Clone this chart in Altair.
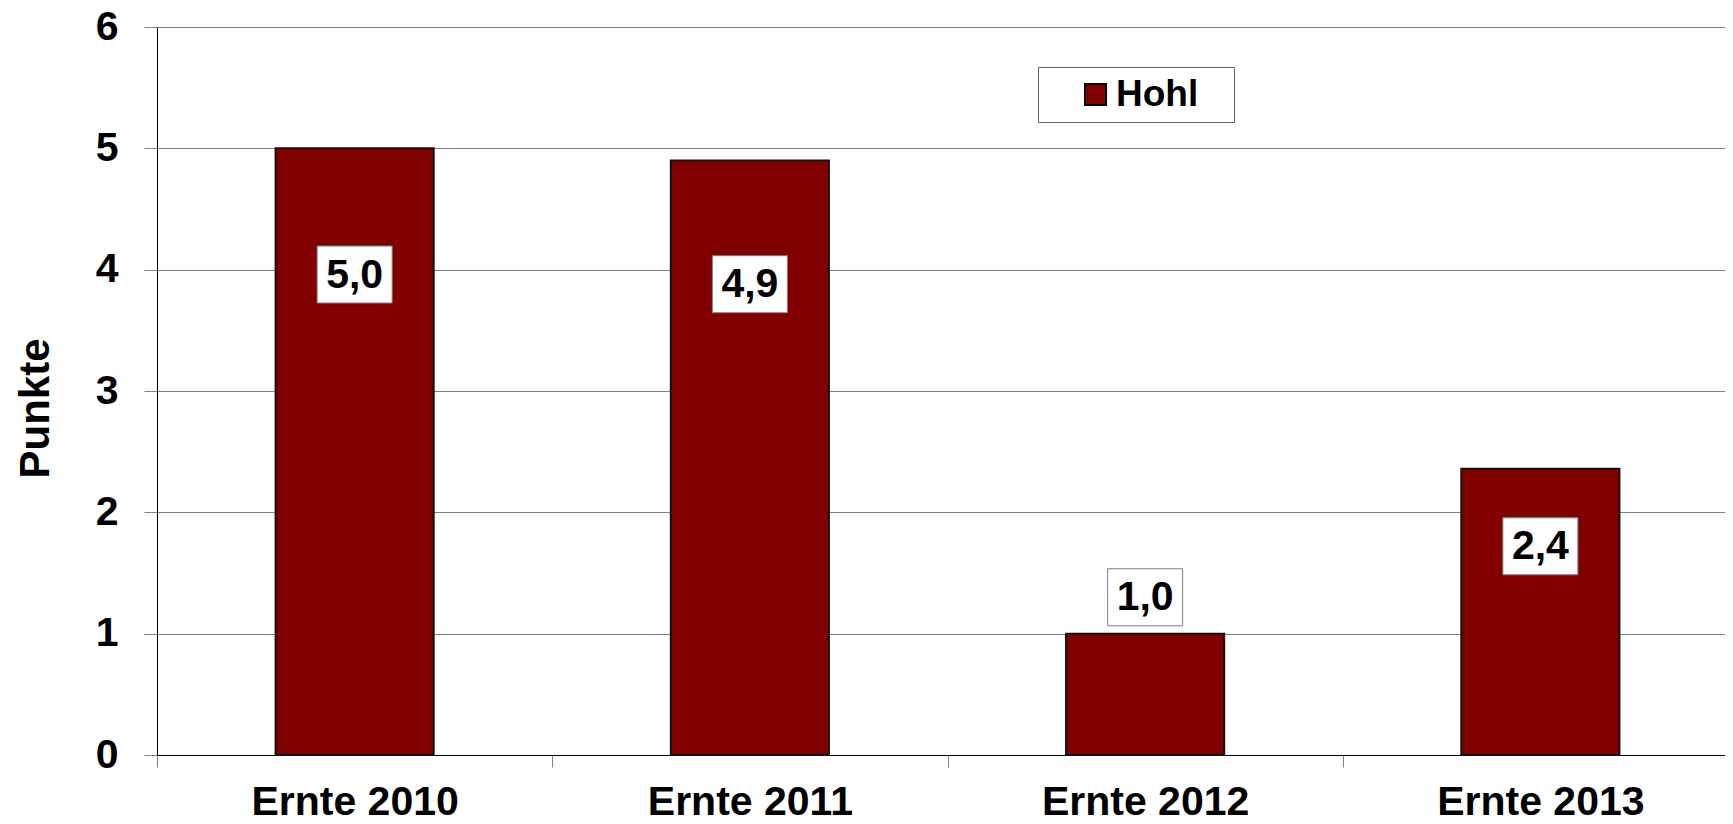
import altair as alt
import pandas as pd

categories = ["Ernte 2010", "Ernte 2011", "Ernte 2012", "Ernte 2013"]
values = [5.0, 4.9, 1.0, 2.36]
label_pos = [3.96, 3.88, 1.30, 1.72]
series = ["Hohl", "Hohl", "Hohl", "Hohl"]
y_ticks = [0, 1, 2, 3, 4, 5, 6]

df = pd.DataFrame({"cat": categories, "value": values, "lpos": label_pos, "series": series})

FONT = "Liberation Sans"

x_scale = alt.Scale(paddingInner=0, paddingOuter=0)

x_enc = alt.X(
    "cat:N",
    sort=categories,
    title=None,
    scale=x_scale,
    axis=alt.Axis(
        tickBand="extent",
        tickSize=12,
        tickColor="#808080",
        tickWidth=1,
        domainColor="#000000",
        domainWidth=1.2,
        labelFont=FONT,
        labelFontSize=41,
        labelFontWeight="bold",
        labelColor="#000000",
        labelPadding=15,
        labelAngle=0,
        labelLimit=0,
        grid=False,
    ),
)

y_scale = alt.Scale(domain=[0, 6], nice=False)

bars = alt.Chart(df).mark_bar(
    stroke="#111111", strokeWidth=2, width=alt.RelativeBandSize(0.4)
).encode(
    x=x_enc,
    y=alt.Y(
        "value:Q",
        scale=y_scale,
        title="Punkte",
        axis=alt.Axis(
            values=y_ticks,
            format="d",
            grid=True,
            gridColor="#808080",
            gridWidth=1,
            tickColor="#808080",
            tickSize=13,
            domainColor="#000000",
            labelFont=FONT,
            labelFontSize=41,
            labelFontWeight="bold",
            labelColor="#000000",
            labelPadding=26,
            titleFont=FONT,
            titleFontSize=42,
            titleFontWeight="bold",
            titleColor="#000000",
            titleAngle=270,
            titleAlign="center",
            titleBaseline="middle",
            titleX=-122,
            titleY=381,
        ),
    ),
    color=alt.Color(
        "series:N",
        scale=alt.Scale(range=["#800000"]),
        legend=alt.Legend(
            title="M",
            titleOrient="right",
            titleFontSize=28,
            titlePadding=3,
            titleColor="rgba(255,255,255,0)",
            orient="none",
            legendX=881,
            legendY=40,
            fillColor="#ffffff",
            strokeColor="#666666",
            padding=9,
            symbolType="square",
            symbolSize=441,
            symbolStrokeColor="#000000",
            symbolStrokeWidth=2,
            symbolOffset=30,
            labelOffset=2,
            labelFont=FONT,
            labelFontSize=37,
            labelFontWeight="bold",
            labelColor="#000000",
        ),
    ),
)

box_shape = "M-1,-0.76L1,-0.76L1,0.76L-1,0.76Z"

boxes = alt.Chart(df).mark_point(
    shape=box_shape,
    size=5625,
    filled=True,
    fill="#ffffff",
    stroke="#808080",
    strokeWidth=1,
    opacity=1,
    fillOpacity=1,
).encode(
    x=alt.X("cat:N", sort=categories, scale=x_scale),
    y=alt.Y("lpos:Q", scale=y_scale),
)

texts = alt.Chart(df).transform_calculate(
    lbl="replace(format(datum.value, '.1f'), '.', ',')"
).mark_text(
    font=FONT,
    fontSize=41,
    fontWeight="bold",
    color="#000000",
    baseline="middle",
    align="center",
    dy=1,
).encode(
    x=alt.X("cat:N", sort=categories, scale=x_scale),
    y=alt.Y("lpos:Q", scale=y_scale),
    text="lbl:N",
)

chart = alt.layer(bars, boxes, texts).properties(
    width=1581,
    height=728,
    autosize=alt.AutoSizeParams(type="none"),
    padding={"left": 149, "top": 19, "right": -13, "bottom": 61},
    background="#ffffff",
).configure_view(stroke=None)

chart.save("out.html", embed_options={"renderer": "svg", "actions": False})
